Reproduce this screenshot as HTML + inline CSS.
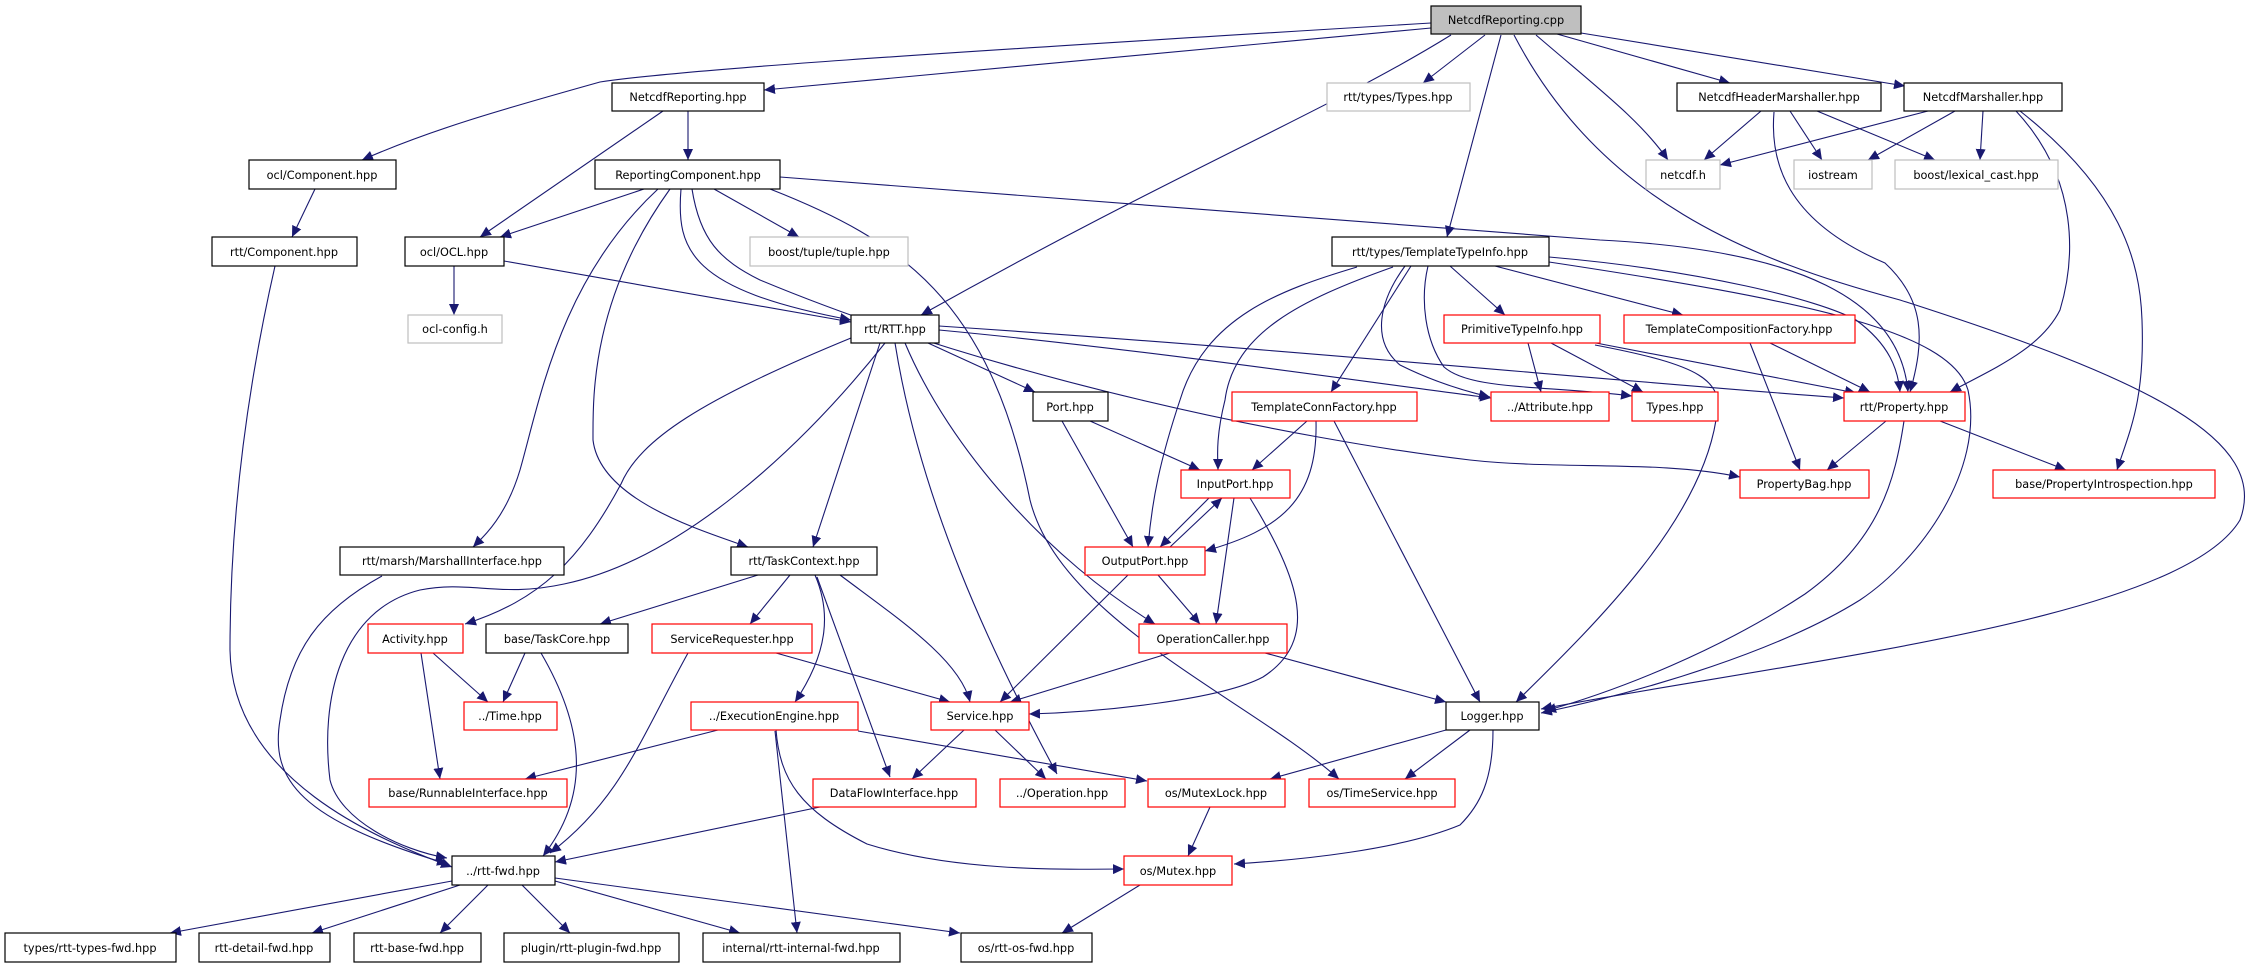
<!DOCTYPE html>
<html><head><meta charset="utf-8"><style>
html,body{margin:0;padding:0;background:#fff;}
svg{display:block;}
text{font-family:"DejaVu Sans","Liberation Sans",sans-serif;font-size:11.3px;fill:#000;text-anchor:middle;}
.n{fill:#fff;stroke:#000;stroke-width:1.2;}
.r{fill:#fff;stroke:#ff0000;stroke-width:1.2;}
.g{fill:#fff;stroke:#bfbfbf;stroke-width:1.2;}
.e{fill:none;stroke:#191970;stroke-width:1.1;marker-end:url(#a);}
</style></head><body>
<svg width="2267" height="968" viewBox="0 0 2267 968" xmlns="http://www.w3.org/2000/svg">
<defs><marker id="a" markerUnits="userSpaceOnUse" markerWidth="12" markerHeight="10" refX="11" refY="5" orient="auto"><path d="M0,0 L11,5 L0,10 z" fill="#191970"/></marker></defs>

<g>
<path class="e" d="M1431,23 C 900,55 680,70 600,82 C 500,110 430,130 362,160"/>
<path class="e" d="M1431,28 L764,90"/>
<path class="e" d="M1451,35 C 1330,110 1180,170 921,315"/>
<path class="e" d="M1485,35 L1423,83"/>
<path class="e" d="M1501,35 L1447,237"/>
<path class="e" d="M1514,35 C 1600,200 1750,260 1900,300 C 2150,380 2270,440 2240,520 C 2180,620 1800,660 1541,709"/>
<path class="e" d="M1536,35 C 1600,90 1640,120 1668,160"/>
<path class="e" d="M1557,34 L1730,83"/>
<path class="e" d="M1581,33 L1905,86"/>

<path class="e" d="M688,111 L688,160"/>
<path class="e" d="M663,111 L480,237"/>
<path class="e" d="M1761,111 L1704,160"/>
<path class="e" d="M1790,111 L1822,160"/>
<path class="e" d="M1817,111 L1935,160"/>
<path class="e" d="M1774,112 C 1770,160 1784,220 1885,263 C 1925,300 1925,340 1910,392"/>
<path class="e" d="M1928,111 L1720,165"/>
<path class="e" d="M1955,111 L1868,160"/>
<path class="e" d="M1983,111 L1980,160"/>
<path class="e" d="M2016,111 C 2080,180 2075,260 2060,310 C 2040,350 1990,370 1950,392"/>
<path class="e" d="M2020,111 C 2120,190 2140,260 2142,320 C 2145,400 2130,430 2117,470"/>

<path class="e" d="M644,189 L500,237"/>
<path class="e" d="M681,189 C 676,250 690,290 851,320"/>
<path class="e" d="M714,189 L799,237"/>
<path class="e" d="M780,177 C 1100,200 1400,225 1600,240 C 1800,250 1900,300 1908,392"/>
<path class="e" d="M658,189 C 560,280 540,400 520,470 C 505,520 480,540 473,547"/>
<path class="e" d="M670,189 C 590,300 593,400 593,440 C 600,500 700,530 748,547"/>
<path class="e" d="M692,189 C 700,240 720,260 760,280 C 1000,380 1300,440 1470,460 C 1560,470 1660,460 1740,477"/>
<path class="e" d="M770,189 C 900,240 990,300 1030,500 C 1060,620 1250,700 1339,779"/>

<path class="e" d="M454,266 L454,315"/>
<path class="e" d="M504,261 L851,322"/>
<path class="e" d="M315,189 L292,237"/>
<path class="e" d="M275,266 C 240,420 230,550 230,650 C 232,780 380,840 452,867"/>

<path class="e" d="M928,343 L1035,392"/>
<path class="e" d="M880,343 L813,547"/>
<path class="e" d="M851,338 C 700,400 640,440 621,484 C 580,560 540,600 465,624"/>
<path class="e" d="M885,343 C 800,450 680,560 564,584 C 500,598 470,580 420,590 C 340,610 320,700 330,780 C 340,820 400,850 447,858"/>
<path class="e" d="M895,343 C 920,500 990,650 1057,774"/>
<path class="e" d="M905,343 C 950,450 1050,560 1155,624"/>
<path class="e" d="M939,330 C 1150,350 1350,380 1491,398"/>
<path class="e" d="M939,326 C 1300,350 1600,380 1844,398"/>

<path class="e" d="M1090,421 L1200,470"/>
<path class="e" d="M1062,421 L1133,547"/>

<path class="e" d="M1450,266 L1505,315"/>
<path class="e" d="M1495,266 L1683,315"/>
<path class="e" d="M1411,266 L1331,392"/>
<path class="e" d="M1393,267 C 1300,300 1234,333 1225,400 C 1215,440 1218,460 1218,470"/>
<path class="e" d="M1357,267 C 1280,290 1205,317 1180,400 C 1160,460 1152,500 1148,547"/>
<path class="e" d="M1405,266 C 1380,300 1370,340 1400,365 C 1430,380 1460,390 1490,397"/>
<path class="e" d="M1428,266 C 1420,300 1425,340 1444,367 C 1470,390 1540,385 1632,396"/>
<path class="e" d="M1549,257 C 1700,270 1820,300 1856,320 C 1890,345 1898,370 1900,392"/>
<path class="e" d="M1549,262 C 1800,300 1950,330 1968,390 C 1985,470 1920,560 1860,600 C 1780,650 1650,690 1541,713"/>

<path class="e" d="M1528,343 L1541,392"/>
<path class="e" d="M1551,343 L1643,392"/>
<path class="e" d="M1596,343 L1856,393"/>
<path class="e" d="M1595,345 C 1700,365 1726,380 1716,420 C 1700,520 1600,620 1516,702"/>
<path class="e" d="M1770,343 L1870,392"/>
<path class="e" d="M1750,343 L1800,470"/>

<path class="e" d="M1307,421 L1252,470"/>
<path class="e" d="M1316,421 C 1318,500 1280,530 1205,551"/>
<path class="e" d="M1334,421 L1480,702"/>
<path class="e" d="M1886,421 L1827,470"/>
<path class="e" d="M1940,421 L2066,470"/>
<path class="e" d="M1904,421 C 1895,480 1880,540 1805,594 C 1720,650 1620,690 1545,711"/>

<path class="e" d="M1209,498 L1160,547"/>
<path class="e" d="M1170,547 L1222,498"/>
<path class="e" d="M1234,498 L1216,624"/>
<path class="e" d="M1250,498 C 1300,580 1320,640 1263,677 C 1220,700 1100,712 1029,714"/>
<path class="e" d="M1158,575 L1200,624"/>
<path class="e" d="M1128,575 L1000,702"/>

<path class="e" d="M382,576 C 320,610 290,650 280,720 C 270,780 300,820 448,864"/>
<path class="e" d="M758,575 L600,624"/>
<path class="e" d="M790,575 L750,624"/>
<path class="e" d="M815,575 C 830,610 830,650 795,702"/>
<path class="e" d="M817,577 L890,777"/>
<path class="e" d="M840,575 C 900,620 960,660 970,702"/>

<path class="e" d="M433,653 L488,702"/>
<path class="e" d="M421,653 L440,779"/>
<path class="e" d="M525,653 L503,702"/>
<path class="e" d="M541,653 C 580,720 595,790 543,856"/>
<path class="e" d="M776,653 L950,702"/>
<path class="e" d="M688,653 C 640,740 620,800 550,853"/>
<path class="e" d="M1170,653 L1010,702"/>
<path class="e" d="M1265,653 L1446,702"/>

<path class="e" d="M718,730 L525,779"/>
<path class="e" d="M858,731 L1147,781"/>
<path class="e" d="M776,730 C 780,780 800,810 867,844 C 950,870 1050,870 1124,869"/>
<path class="e" d="M775,731 L797,933"/>
<path class="e" d="M964,730 L912,779"/>
<path class="e" d="M995,730 L1046,779"/>
<path class="e" d="M1446,730 L1270,779"/>
<path class="e" d="M1470,730 L1405,779"/>
<path class="e" d="M1493,730 C 1493,780 1480,805 1460,825 C 1400,850 1300,860 1234,864"/>
<path class="e" d="M820,807 L555,862"/>
<path class="e" d="M1210,807 L1188,856"/>
<path class="e" d="M1140,885 L1062,933"/>

<path class="e" d="M452,881 L170,933"/>
<path class="e" d="M460,885 L312,933"/>
<path class="e" d="M488,885 L440,933"/>
<path class="e" d="M522,885 L570,933"/>
<path class="e" d="M555,881 L740,933"/>
<path class="e" d="M555,878 L960,933"/>
</g>

<rect x="1431" y="6" width="150" height="28" fill="#bfbfbf" stroke="#000" stroke-width="1.2"/><text x="1506" y="24">NetcdfReporting.cpp</text>

<rect class="n" x="612" y="83" width="152" height="28"/><text x="688" y="101">NetcdfReporting.hpp</text>
<rect class="g" x="1327" y="83" width="143" height="28"/><text x="1398" y="101">rtt/types/Types.hpp</text>
<rect class="n" x="1677" y="83" width="204" height="28"/><text x="1779" y="101">NetcdfHeaderMarshaller.hpp</text>
<rect class="n" x="1904" y="83" width="158" height="28"/><text x="1983" y="101">NetcdfMarshaller.hpp</text>

<rect class="n" x="249" y="160" width="147" height="29"/><text x="322" y="179">ocl/Component.hpp</text>
<rect class="n" x="595" y="160" width="185" height="29"/><text x="688" y="179">ReportingComponent.hpp</text>
<rect class="g" x="1646" y="160" width="74" height="29"/><text x="1683" y="179">netcdf.h</text>
<rect class="g" x="1794" y="160" width="78" height="29"/><text x="1833" y="179">iostream</text>
<rect class="g" x="1895" y="160" width="163" height="29"/><text x="1976" y="179">boost/lexical_cast.hpp</text>

<rect class="n" x="212" y="237" width="145" height="29"/><text x="284" y="256">rtt/Component.hpp</text>
<rect class="n" x="405" y="237" width="99" height="29"/><text x="454" y="256">ocl/OCL.hpp</text>
<rect class="g" x="750" y="237" width="158" height="29"/><text x="829" y="256">boost/tuple/tuple.hpp</text>
<rect class="n" x="1332" y="237" width="217" height="29"/><text x="1440" y="256">rtt/types/TemplateTypeInfo.hpp</text>

<rect class="g" x="408" y="315" width="94" height="28"/><text x="455" y="333">ocl-config.h</text>
<rect class="n" x="851" y="315" width="88" height="28"/><text x="895" y="333">rtt/RTT.hpp</text>
<rect class="r" x="1444" y="315" width="156" height="28"/><text x="1522" y="333">PrimitiveTypeInfo.hpp</text>
<rect class="r" x="1624" y="315" width="231" height="28"/><text x="1739" y="333">TemplateCompositionFactory.hpp</text>

<rect class="n" x="1033" y="392" width="75" height="29"/><text x="1070" y="411">Port.hpp</text>
<rect class="r" x="1232" y="392" width="185" height="29"/><text x="1324" y="411">TemplateConnFactory.hpp</text>
<rect class="r" x="1491" y="392" width="118" height="29"/><text x="1550" y="411">../Attribute.hpp</text>
<rect class="r" x="1632" y="392" width="86" height="29"/><text x="1675" y="411">Types.hpp</text>
<rect class="r" x="1844" y="392" width="121" height="29"/><text x="1904" y="411">rtt/Property.hpp</text>

<rect class="r" x="1181" y="470" width="109" height="28"/><text x="1235" y="488">InputPort.hpp</text>
<rect class="r" x="1740" y="470" width="129" height="28"/><text x="1804" y="488">PropertyBag.hpp</text>
<rect class="r" x="1993" y="470" width="222" height="28"/><text x="2104" y="488">base/PropertyIntrospection.hpp</text>

<rect class="n" x="340" y="547" width="224" height="28"/><text x="452" y="565">rtt/marsh/MarshallInterface.hpp</text>
<rect class="n" x="731" y="547" width="146" height="28"/><text x="804" y="565">rtt/TaskContext.hpp</text>
<rect class="r" x="1085" y="547" width="120" height="28"/><text x="1145" y="565">OutputPort.hpp</text>

<rect class="r" x="368" y="624" width="95" height="29"/><text x="415" y="643">Activity.hpp</text>
<rect class="n" x="486" y="624" width="142" height="29"/><text x="557" y="643">base/TaskCore.hpp</text>
<rect class="r" x="652" y="624" width="160" height="29"/><text x="732" y="643">ServiceRequester.hpp</text>
<rect class="r" x="1139" y="624" width="148" height="29"/><text x="1213" y="643">OperationCaller.hpp</text>

<rect class="r" x="464" y="702" width="93" height="28"/><text x="510" y="720">../Time.hpp</text>
<rect class="r" x="691" y="702" width="167" height="28"/><text x="774" y="720">../ExecutionEngine.hpp</text>
<rect class="r" x="931" y="702" width="98" height="28"/><text x="980" y="720">Service.hpp</text>
<rect class="n" x="1446" y="702" width="93" height="28"/><text x="1492" y="720">Logger.hpp</text>

<rect class="r" x="369" y="779" width="198" height="28"/><text x="468" y="797">base/RunnableInterface.hpp</text>
<rect class="r" x="813" y="779" width="163" height="28"/><text x="894" y="797">DataFlowInterface.hpp</text>
<rect class="r" x="1000" y="779" width="125" height="28"/><text x="1062" y="797">../Operation.hpp</text>
<rect class="r" x="1148" y="779" width="137" height="28"/><text x="1216" y="797">os/MutexLock.hpp</text>
<rect class="r" x="1309" y="779" width="146" height="28"/><text x="1382" y="797">os/TimeService.hpp</text>

<rect class="n" x="452" y="856" width="103" height="29"/><text x="503" y="875">../rtt-fwd.hpp</text>
<rect class="r" x="1124" y="856" width="108" height="29"/><text x="1178" y="875">os/Mutex.hpp</text>

<rect class="n" x="5" y="933" width="171" height="29"/><text x="90" y="952">types/rtt-types-fwd.hpp</text>
<rect class="n" x="199" y="933" width="131" height="29"/><text x="264" y="952">rtt-detail-fwd.hpp</text>
<rect class="n" x="354" y="933" width="127" height="29"/><text x="417" y="952">rtt-base-fwd.hpp</text>
<rect class="n" x="504" y="933" width="175" height="29"/><text x="591" y="952">plugin/rtt-plugin-fwd.hpp</text>
<rect class="n" x="703" y="933" width="197" height="29"/><text x="801" y="952">internal/rtt-internal-fwd.hpp</text>
<rect class="n" x="961" y="933" width="131" height="29"/><text x="1026" y="952">os/rtt-os-fwd.hpp</text>
</svg>
</body></html>
